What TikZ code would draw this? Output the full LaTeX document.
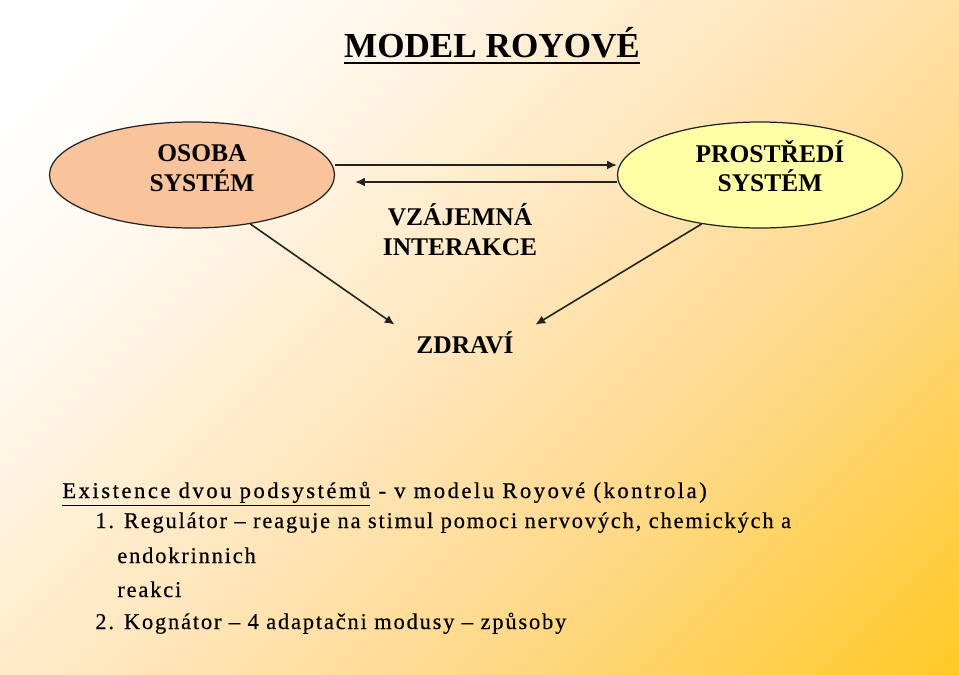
\documentclass[tikz,border=0pt]{standalone}
\usepackage{fontspec}
\setmainfont{Liberation Serif}
\newfontfamily\listfont[LetterSpace=8,FakeBold=0.4]{Liberation Serif}
\newfontfamily\headfont[LetterSpace=11.5,FakeBold=0.8]{Liberation Serif}
\usepackage{tikz}
\usetikzlibrary{shapes.geometric,arrows.meta}

\definecolor{osobaorange}{HTML}{F9C49B}
\definecolor{prostrediyellow}{HTML}{FFFFA6}
\definecolor{bgcream}{HTML}{FFF7EA}
\definecolor{bgpeach}{HTML}{FFE5B8}
\definecolor{bgamber}{HTML}{FFD98A}
\definecolor{bggold}{HTML}{FFC922}
\definecolor{inkgray}{HTML}{222222}

\pgfdeclarehorizontalshading{slidebg}{100bp}{color(0bp)=(white); color(20bp)=(white); color(32bp)=(bgcream); color(50bp)=(bgpeach); color(64bp)=(bgamber); color(86bp)=(bggold); color(100bp)=(bggold)}

\begin{document}
\begin{tikzpicture}[scale=0.2]
     \tikzstyle{every node}+=[inner sep=0pt]
     \tikzstyle{system}=[ellipse, draw=inkgray, line width=0.7pt, minimum width=5.7cm, minimum height=2.12cm]
     \tikzstyle{boldtext}=[align=center, font=\fontsize{14.5}{17}\selectfont\bfseries]
     \tikzstyle{listline}=[anchor=base west, font=\listfont\fontsize{12.8}{15}\selectfont]
     \tikzstyle{link}=[inkgray, line width=0.9pt, -{Latex[length=5.5pt,width=5pt]}]
     \shade [shading=slidebg, shading angle=-45] (0,0) rectangle (95.9,-67.5);
     \useasboundingbox (0,0) rectangle (95.9,-67.5);
     \draw (49.2,-5.8) node [anchor=base, font=\fontsize{20}{24}\selectfont\bfseries] (title) {MODEL ROYOVÉ};
     \draw [line width=1.6pt] ([yshift=-0.5cm]title.base west) -- ([yshift=-0.5cm]title.base east);
     \draw (19.2,-17.5) node [system, fill=osobaorange] (osoba) {};
     \draw (20.2,-16.8) node [boldtext] (osobatext) {OSOBA\\SYSTÉM};
     \draw (76.0,-17.5) node [system, fill=prostrediyellow] (prostredi) {};
     \draw (77.0,-16.6) node [boldtext] (prostreditext) {PROSTŘEDÍ\\SYSTÉM};
     \draw (46.0,-23.0) node [boldtext] (interakce) {VZÁJEMNÁ\\INTERAKCE};
     \draw (46.5,-34.5) node [boldtext, text height=10pt, text depth=0pt, inner xsep=0.43cm, inner ysep=6.4pt] (zdravi) {ZDRAVÍ};
     \draw [link] ([yshift=1cm]osoba.east) -- ([yshift=1cm]prostredi.west);
     \draw [link] ([yshift=-0.7cm]prostredi.west) -- ([xshift=2cm,yshift=-0.7cm]osoba.east);
     \draw [link] (osoba.-40) -- (zdravi.north west);
     \draw [link] (prostredi.220) -- (zdravi.north east);
     \draw (6.2,-49.8) node [listline, font=\headfont\fontsize{12.8}{15}\selectfont] (podsystemy) {\underline{Existence dvou podsystémů} - v modelu Royové (kontrola)};
     \draw (9.5,-52.8) node [listline] (regulator) {1. Regulátor – reaguje na stimul pomoci nervových, chemických a};
     \draw (11.7,-56.3) node [listline] (endokrinni) {endokrinnich};
     \draw (11.7,-59.7) node [listline] (reakci) {reakci};
     \draw (9.5,-62.9) node [listline] (kognator) {2. Kognátor – 4 adaptačni modusy – způsoby};
\end{tikzpicture}
\end{document}
